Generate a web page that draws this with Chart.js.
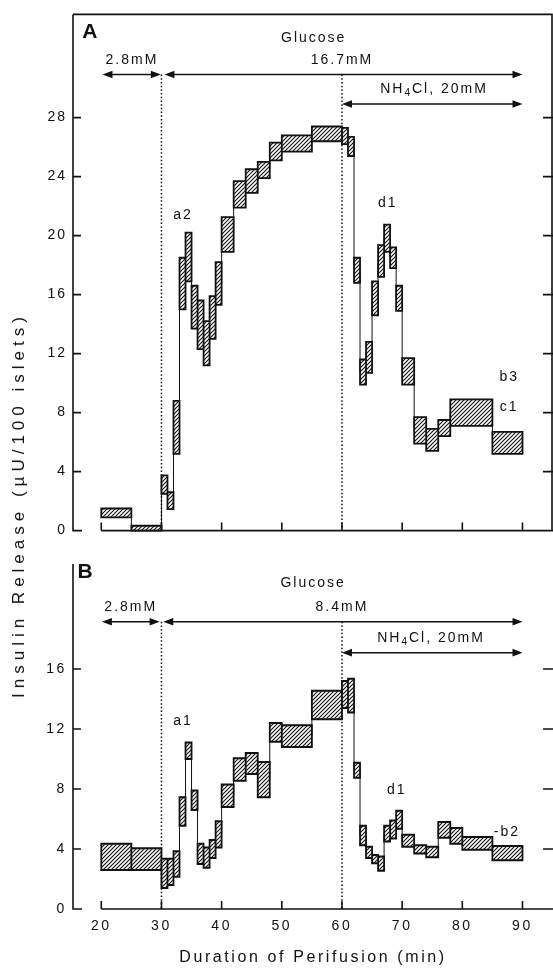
<!DOCTYPE html>
<html>
<head>
<meta charset="utf-8">
<script src="https://cdn.jsdelivr.net/npm/chart.js@4.4.0/dist/chart.umd.min.js"></script>
<style>
  html, body { margin: 0; padding: 0; background: #fff; }
  #page { position: relative; width: 553px; height: 969px; overflow: hidden; }
  canvas { position: absolute; left: 0; }
  #chartA { top: 0; }
  #chartB { top: 545px; }
  #ytitle {
    position: absolute; left: 19px; top: 505px;
    transform: translate(-50%, -50%) rotate(-90deg);
    white-space: nowrap; color: #111;
    font: 17px "Liberation Sans", Arial, sans-serif; letter-spacing: 5px;
  }
</style>
</head>
<body>
<div id="page">
  <canvas id="chartA" width="553" height="545"></canvas>
  <canvas id="chartB" width="553" height="424"></canvas>
  <div id="ytitle">Insulin Release (µU/100 islets)</div>
</div>
<script>
const FONT = '"Liberation Sans", Arial, sans-serif';
const INK = '#111';

// collection intervals (min) and the low / high edge of each band
const edgesA = [20, 25, 30, 31, 32, 33, 34, 35, 36, 37, 38, 39, 40, 42, 44, 46, 48, 50, 55, 60,
  61, 62, 63, 64, 65, 66, 67, 68, 69, 70, 72, 74, 76, 78, 85, 90];
const lowA = [0.9, 0.0, 2.5, 1.45, 5.2, 15.0, 16.9, 13.7, 12.3, 11.2, 13.0, 15.3, 18.9, 21.9, 22.9, 23.9, 25.1, 25.7, 26.4,
  26.2, 25.4, 16.8, 9.9, 10.7, 14.6, 17.2, 18.9, 17.8, 14.9, 9.9, 5.9, 5.4, 6.4, 7.1, 5.2];
const highA = [1.5, 0.33, 3.75, 2.6, 8.8, 18.5, 20.2, 16.6, 15.6, 14.2, 15.9, 18.2, 21.25, 23.7, 24.5, 25.0, 26.3, 26.8, 27.4,
  27.3, 26.7, 18.5, 11.6, 12.8, 16.9, 19.35, 20.75, 19.2, 16.6, 11.7, 7.7, 6.9, 7.5, 8.9, 6.7];

const edgesB = [20, 25, 30, 31, 32, 33, 34, 35, 36, 37, 38, 39, 40, 42, 44, 46, 48, 50, 55, 60,
  61, 62, 63, 64, 65, 66, 67, 68, 69, 70, 72, 74, 76, 78, 80, 85, 90];
const lowB = [2.6, 2.6, 1.4, 1.6, 2.15, 5.55, 10.0, 6.6, 3.0, 2.75, 3.4, 4.1, 6.8, 8.55, 9.0, 7.45, 11.15, 10.8, 12.65,
  13.4, 13.1, 8.75, 4.25, 3.4, 3.05, 2.55, 4.5, 4.7, 5.35, 4.15, 3.7, 3.45, 4.75, 4.35, 3.95, 3.25];
const highB = [4.35, 4.05, 3.35, 3.35, 3.85, 7.45, 11.1, 7.9, 4.35, 4.1, 4.6, 5.85, 8.3, 10.05, 10.4, 9.8, 12.4, 12.25, 14.55,
  15.2, 15.35, 9.75, 5.55, 4.15, 3.6, 3.5, 5.55, 5.9, 6.55, 4.95, 4.25, 4.15, 5.8, 5.4, 4.8, 4.2];

const xTicks = [20, 30, 40, 50, 60, 70, 80, 90];
const yTicksA = [0, 4, 8, 12, 16, 20, 24, 28];
const yTicksB = [0, 4, 8, 12, 16];

function hatch(ctx) {
  const c = document.createElement('canvas');
  c.width = 4; c.height = 4;
  const g = c.getContext('2d');
  g.fillStyle = '#fff';
  g.fillRect(0, 0, 4, 4);
  g.strokeStyle = INK;
  g.lineWidth = 1.1;
  g.beginPath();
  g.moveTo(0, 4); g.lineTo(4, 0);
  g.moveTo(-1, 1); g.lineTo(1, -1);
  g.moveTo(3, 5); g.lineTo(5, 3);
  g.stroke();
  return ctx.createPattern(c, 'repeat');
}

// one closed rectangle per interval, separated by gaps
function boxes(edges, low, high) {
  const pts = [];
  low.forEach((lo, i) => {
    const s = edges[i], e = edges[i + 1], hi = high[i];
    pts.push({ x: s, y: lo }, { x: s, y: hi }, { x: e, y: hi }, { x: e, y: lo }, { x: s, y: lo }, { x: e, y: null });
  });
  return pts;
}

// thin stepped trace through the middle of the bands
function trace(edges, low, high) {
  const pts = low.map((lo, i) => ({ x: edges[i], y: (lo + high[i]) / 2 }));
  pts.push({ x: edges[edges.length - 1], y: pts[pts.length - 1].y });
  return pts;
}

function arrowHead(ctx, x, y, dir) {
  ctx.beginPath();
  ctx.moveTo(x, y);
  ctx.lineTo(x - dir * 10, y - 3.8);
  ctx.lineTo(x - dir * 10, y + 3.8);
  ctx.closePath();
  ctx.fill();
}

function drawLabel(ctx, item, x, y) {
  ctx.font = `${item.weight || 'normal'} ${item.size || 14}px ${FONT}`;
  ctx.letterSpacing = item.size ? '0px' : '2px';
  ctx.textBaseline = 'middle';
  if (!item.sub) {
    ctx.textAlign = 'center';
    ctx.fillText(item.text, x, y);
    return;
  }
  // "NH4Cl, 20mM" with a subscript 4
  const [a, s, b] = item.sub;
  const big = ctx.font;
  const small = `10px ${FONT}`;
  const wa = ctx.measureText(a).width;
  const wb = ctx.measureText(b).width;
  ctx.font = small;
  const ws = ctx.measureText(s).width;
  let cx = x - (wa + ws + wb) / 2;
  ctx.textAlign = 'left';
  ctx.font = big;
  ctx.fillText(a, cx, y);
  cx += wa;
  ctx.font = small;
  ctx.fillText(s, cx, y + 4);
  cx += ws;
  ctx.font = big;
  ctx.fillText(b, cx, y);
}

const frame = {
  id: 'frame',
  beforeDraw(chart, args, o) {
    chart.ctx.letterSpacing = o.spacing || '2px';
  },
  afterDraw(chart, args, o) {
    const { ctx, chartArea: a, scales: { x, y } } = chart;
    const px = (v) => x.getPixelForValue(v);
    const py = (v) => y.getPixelForValue(v);
    const y0 = py(0);
    ctx.save();
    ctx.strokeStyle = INK;
    ctx.fillStyle = INK;
    ctx.lineWidth = 1.6;
    ctx.beginPath();
    ctx.moveTo(a.left, a.top);
    ctx.lineTo(a.left, y0);
    ctx.lineTo(a.left + 9, y0);
    ctx.moveTo(px(xTicks[0]), y0);
    ctx.lineTo(a.right, y0);
    o.yTicks.forEach((v) => {
      if (v === 0) return;
      ctx.moveTo(a.left, py(v)); ctx.lineTo(a.left + 8, py(v));
      ctx.moveTo(a.right - 10, py(v)); ctx.lineTo(a.right, py(v));
    });
    xTicks.forEach((t) => {
      ctx.moveTo(px(t), y0); ctx.lineTo(px(t), y0 - 8);
    });
    if (o.box) {
      ctx.moveTo(a.left, a.top);
      ctx.lineTo(a.right - 1, a.top);
      ctx.lineTo(a.right - 1, y0);
    }
    ctx.stroke();

    // treatment boundaries
    ctx.save();
    ctx.setLineDash([1.5, 2.2]);
    ctx.lineWidth = 1.5;
    ctx.beginPath();
    o.dotted.forEach((t) => {
      ctx.moveTo(px(t), py(o.dottedTop));
      ctx.lineTo(px(t), y0);
    });
    ctx.stroke();
    ctx.restore();

    // double-headed arrows
    ctx.lineWidth = 1.5;
    o.arrows.forEach(([t1, t2, v]) => {
      const x1 = px(t1), x2 = px(t2), yy = py(v);
      ctx.beginPath();
      ctx.moveTo(x1 + 4, yy);
      ctx.lineTo(x2 - 4, yy);
      ctx.stroke();
      arrowHead(ctx, x1, yy, -1);
      arrowHead(ctx, x2, yy, 1);
    });

    o.texts.forEach((item) => drawLabel(ctx, item, px(item.t), py(item.v)));
    ctx.restore();
  }
};

function makeChart(id, edges, low, high, yMax, yTicks, pad, xHeight, extra) {
  const canvas = document.getElementById(id);
  const ctx = canvas.getContext('2d');
  return new Chart(ctx, {
    type: 'line',
    data: {
      datasets: [
        {
          data: boxes(edges, low, high),
          borderColor: INK,
          borderWidth: 1.8,
          borderJoinStyle: 'miter',
          borderCapStyle: 'square',
          backgroundColor: hatch(ctx),
          fill: 'shape',
          pointRadius: 0,
          tension: 0,
          clip: false,
          order: 0,
        },
        {
          data: trace(edges, low, high),
          borderColor: INK,
          borderWidth: 1,
          stepped: true,
          fill: false,
          pointRadius: 0,
          order: 1,
        },
      ],
    },
    options: {
      responsive: false,
      animation: false,
      events: [],
      layout: { padding: { top: pad, left: 0, right: 0, bottom: 0 } },
      plugins: {
        legend: { display: false },
        tooltip: { enabled: false },
        frame: Object.assign({ yTicks }, extra.frame),
      },
      scales: {
        x: {
          type: 'linear',
          min: 15.3,
          max: 95.07,
          grid: { display: false, drawTicks: false },
          border: { display: false },
          afterBuildTicks: (s) => { s.ticks = xTicks.map((v) => ({ value: v })); },
          afterFit: (s) => { s.height = xHeight; },
          ticks: {
            display: extra.xLabels,
            padding: 9,
            color: INK,
            font: { family: FONT, size: 14 },
            maxRotation: 0,
          },
          title: {
            display: extra.xLabels,
            text: 'Duration of Perifusion (min)',
            color: INK,
            font: { family: FONT, size: 16 },
            padding: { top: 4, bottom: 2 },
          },
        },
        y: {
          min: 0,
          max: yMax,
          grid: { display: false, drawTicks: false },
          border: { display: false },
          afterBuildTicks: (s) => { s.ticks = yTicks.map((v) => ({ value: v })); },
          afterFit: (s) => { s.width = 73; },
          ticks: {
            padding: 6,
            color: INK,
            font: { family: FONT, size: 14 },
          },
        },
      },
    },
    plugins: [frame],
  });
}

makeChart('chartA', edgesA, lowA, highA, 35, yTicksA, 8.5, 14, {
  xLabels: false,
  frame: {
    box: true,
    dotted: [30, 60],
    dottedTop: 30.92,
    arrows: [[20.2, 29.9, 30.92], [30.5, 90, 30.92], [60, 90, 28.92]],
    texts: [
      { text: 'A', t: 18.1, v: 33.8, size: 21, weight: 'bold' },
      { text: 'Glucose', t: 55.3, v: 33.4 },
      { text: '2.8mM', t: 25.1, v: 31.9 },
      { text: '16.7mM', t: 60, v: 31.9 },
      { sub: ['NH', '4', 'Cl, 20mM'], t: 75.3, v: 29.9 },
      { text: 'a2', t: 33.6, v: 21.4 },
      { text: 'd1', t: 67.6, v: 22.2 },
      { text: 'b3', t: 87.8, v: 10.4 },
      { text: 'c1', t: 87.8, v: 8.4 },
    ],
  },
});

makeChart('chartB', edgesB, lowB, highB, 23, yTicksB, 19, 60, {
  xLabels: true,
  frame: {
    spacing: '2.6px',
    box: false,
    dotted: [30, 60],
    dottedTop: 19.15,
    arrows: [[20.1, 29.7, 19.15], [30.3, 90, 19.15], [60, 90, 17.09]],
    texts: [
      { text: 'B', t: 17.3, v: 22.45, size: 21, weight: 'bold' },
      { text: 'Glucose', t: 55.2, v: 21.7 },
      { text: '2.8mM', t: 24.9, v: 20.1 },
      { text: '8.4mM', t: 60, v: 20.1 },
      { sub: ['NH', '4', 'Cl, 20mM'], t: 74.8, v: 18.07 },
      { text: 'a1', t: 33.6, v: 12.5 },
      { text: 'd1', t: 69.1, v: 7.9 },
      { text: '-b2', t: 87.4, v: 5.15 },
    ],
  },
});
</script>
</body>
</html>
